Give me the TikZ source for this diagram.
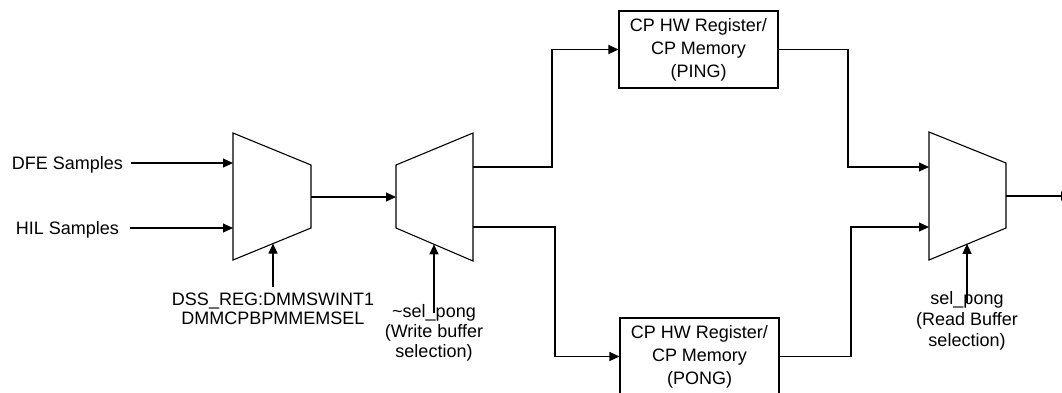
\documentclass[tikz,border=0pt]{standalone}
\usepackage{fontspec}
\setmainfont{Liberation Sans}
\usetikzlibrary{arrows.meta,calc}
\begin{document}
\begin{tikzpicture}[x=1pt,y=-1pt,
  wire/.style={draw=black, line width=1.1pt},
  arr/.style={wire, -{Triangle[length=10pt,width=9pt]}},
  muxshape/.style={draw=black, line width=1.1pt, line join=miter},
  lbl/.style={font=\fontsize{18}{22}\selectfont, inner sep=0pt, align=center},
  membox/.style={draw=black, line width=1.1pt, minimum width=159pt, minimum height=77pt,
                 inner sep=0pt, align=center, font=\fontsize{18}{23}\selectfont}]
\clip (0,0) rectangle (1062,392);

% input multiplexer
\coordinate (m1a) at (233,133);
\coordinate (m1b) at (311,165);
\coordinate (m1c) at (311,228);
\coordinate (m1d) at (233,260);
\draw[muxshape] (m1a) -- (m1b) -- (m1c) -- (m1d) -- cycle;
\coordinate (m1i1) at (233,163);
\coordinate (m1i2) at (233,228);
\coordinate (m1o)  at (311,197);
\coordinate (m1s)  at ($(m1d)!0.513!(m1c)$);

% write demultiplexer
\coordinate (m2a) at (396,165);
\coordinate (m2b) at (473,133);
\coordinate (m2c) at (473,261);
\coordinate (m2d) at (396,228);
\draw[muxshape] (m2a) -- (m2b) -- (m2c) -- (m2d) -- cycle;
\coordinate (m2i)  at (396,197);
\coordinate (m2o1) at (473,167);
\coordinate (m2o2) at (473,227);
\coordinate (m2s)  at ($(m2d)!0.494!(m2c)$);

% read multiplexer
\coordinate (m3a) at (929,132);
\coordinate (m3b) at (1006,163);
\coordinate (m3c) at (1006,228);
\coordinate (m3d) at (929,260);
\draw[muxshape] (m3a) -- (m3b) -- (m3c) -- (m3d) -- cycle;
\coordinate (m3i1) at (929,167);
\coordinate (m3i2) at (929,227);
\coordinate (m3o)  at (1006,196);
\coordinate (m3s)  at ($(m3d)!0.506!(m3c)$);
\coordinate (m3end) at (1071,196);

% ping / pong buffers
\node[membox] (ping) at (698.5,49.5) {CP HW Register/\\CP Memory\\(PING)};
\node[membox] (pong) at (699.5,356.5) {CP HW Register/\\CP Memory\\(PONG)};

% labels
\node[lbl, anchor=base east] (dfe) at (123,169) {DFE Samples};
\node[lbl, anchor=base east] (hil) at (119,234) {HIL Samples};
\node[lbl, font=\fontsize{18}{19}\selectfont, anchor=north] (dss) at (273,293)
  {DSS\_REG:DMMSWINT1\\DMMCPBPMMEMSEL};
\node[lbl, font=\fontsize{18}{20}\selectfont, anchor=north] (wsel) at (434,303.8)
  {\textasciitilde sel\_pong\\(Write buffer\\selection)};
\node[lbl, font=\fontsize{18}{21}\selectfont, anchor=north] (rsel) at (967,291)
  {sel\_pong\\(Read Buffer\\selection)};

% sample inputs
\draw[arr, shorten <=8pt]  (dfe.east |- m1i1) -- (m1i1);
\draw[arr, shorten <=11pt] (hil.east |- m1i2) -- (m1i2);

% select lines
\draw[arr, shorten <=6pt]  (dss.north)  -- (dss.north |- m1s);
\draw[arr, shorten <=-9pt] (wsel.north) -- (wsel.north |- m2s);
\draw[arr, shorten <=-12pt] (rsel.north) -- (rsel.north |- m3s);

% data path
\coordinate (ja) at (552,0);
\coordinate (jb) at (555,0);
\coordinate (jc) at (848,0);
\coordinate (jd) at (851,0);
\draw[arr] (m1o) -- (m2i);
\draw[arr] (m2o1) -| (ja |- ping.west) -- (ping.west);
\draw[arr] (m2o2) -| (jb |- pong.west) -- (pong.west);
\draw[arr] (ping.east) -| (jc |- m3i1) -- (m3i1);
\draw[arr] (pong.east) -| (jd |- m3i2) -- (m3i2);
\draw[arr] (m3o) -- (m3end);
\end{tikzpicture}
\end{document}
